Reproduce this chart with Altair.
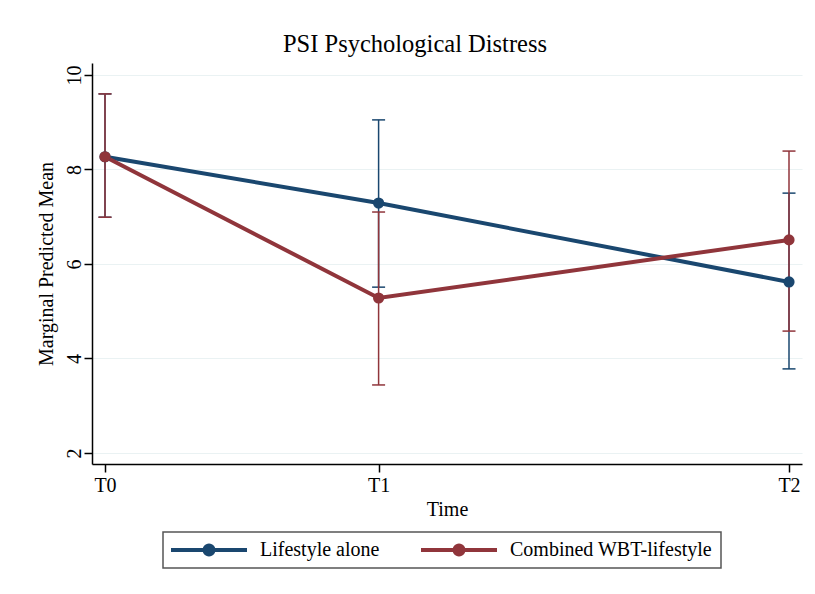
import math
import altair as alt
import pandas as pd

# Time points (months from baseline) and their axis labels
time_labels = ["T0", "T1", "T2"]
time_point = [0, 4, 10]

groups = ["Lifestyle alone", "Combined WBT-lifestyle"]
colors = ["#1a476f", "#90353b"]

# Marginal predicted means with 95% CI bounds
lifestyle_mean = [8.27, 7.29, 5.62]
lifestyle_lo = [6.99, 5.51, 3.78]
lifestyle_hi = [9.60, 9.05, 7.50]

combined_mean = [8.27, 5.28, 6.51]
combined_lo = [6.99, 3.44, 4.58]
combined_hi = [9.60, 7.10, 8.39]

rows = []
for g, means, los, his in [
    (groups[0], lifestyle_mean, lifestyle_lo, lifestyle_hi),
    (groups[1], combined_mean, combined_lo, combined_hi),
]:
    for t, lab, m, lo, hi in zip(time_point, time_labels, means, los, his):
        rows.append({"group": g, "time": t, "label": lab, "mean": m, "lo": lo, "hi": hi})
df = pd.DataFrame(rows)

SERIF = "Liberation Serif"


def legend_glyph(half_len=38.0, bar_half=2.0, dot_r=6.5, n=28):
    """Line-with-dot legend key as a filled path in [-1, 1] units."""
    h = bar_half / half_len
    r = dot_r / half_len
    bar = f"M-1,{-h:.4f}L1,{-h:.4f}L1,{h:.4f}L-1,{h:.4f}Z"
    pts = [(r * math.cos(2 * math.pi * k / n), r * math.sin(2 * math.pi * k / n)) for k in range(n)]
    dot = "M" + "L".join(f"{x:.4f},{y:.4f}" for x, y in pts) + "Z"
    return bar + dot


label_expr = " : ".join(
    f"datum.value == {t} ? '{lab}'" for t, lab in zip(time_point[:-1], time_labels[:-1])
) + f" : '{time_labels[-1]}'"

x_enc = alt.X(
    "time:Q",
    scale=alt.Scale(domain=[-0.19, 10.19], nice=False, zero=False),
    axis=alt.Axis(
        values=time_point,
        labelExpr=label_expr,
        title="Time",
        grid=False,
        tickSize=8,
        labelPadding=3,
        titlePadding=4,
    ),
)

y_scale = alt.Scale(domain=[1.767, 10.254], nice=False, zero=False)
y_axis = alt.Axis(
    values=[2, 4, 6, 8, 10],
    title="Marginal Predicted Mean",
    grid=True,
    tickSize=8,
    labelAngle=-90,
    labelAlign="center",
    labelBaseline="alphabetic",
    labelPadding=4,
    titlePadding=8,
)

base = alt.Chart(df)

# Confidence intervals first (one layer per group), then the mean profiles
ci_layers = []
line_layers = []
for g, col in zip(groups, colors):
    sub = base.transform_filter(alt.datum.group == g)
    ci_layers.append(
        sub.mark_rule(strokeWidth=1.5, color=col).encode(
            x=x_enc,
            y=alt.Y("lo:Q", scale=y_scale, axis=y_axis),
            y2="hi:Q",
        )
    )
    ci_layers.append(
        sub.mark_tick(orient="horizontal", size=13, thickness=1.5, opacity=1, color=col).encode(
            x="time:Q", y="lo:Q"
        )
    )
    ci_layers.append(
        sub.mark_tick(orient="horizontal", size=13, thickness=1.5, opacity=1, color=col).encode(
            x="time:Q", y="hi:Q"
        )
    )
    line_layers.append(
        sub.mark_line(strokeWidth=4, color=col).encode(x="time:Q", y="mean:Q")
    )

# The markers carry the legend through their fill scale
points = base.mark_point(filled=True, size=125, opacity=1, strokeWidth=0).encode(
    x="time:Q",
    y="mean:Q",
    fill=alt.Fill(
        "group:N",
        scale=alt.Scale(domain=groups, range=colors),
        legend=alt.Legend(
            title=None,
            orient="none",
            legendX=71,
            legendY=469,
            direction="horizontal",
            symbolType=legend_glyph(),
            symbolSize=76 * 76,
            symbolStrokeWidth=0,
            symbolOpacity=1,
            clipHeight=20,
            labelFont=SERIF,
            labelFontSize=20,
            labelColor="#000000",
            labelLimit=0,
            labelOffset=13,
            columnPadding=41,
            padding=8,
            strokeColor="#555555",
            fillColor="#ffffff",
        ),
    ),
)

chart = (
    alt.layer(*ci_layers, *line_layers, points)
    .properties(
        width=710,
        height=401,
        padding={"left": 92, "top": 63, "right": 13, "bottom": 130},
        autosize=alt.AutoSizeParams(type="none"),
        background="#ffffff",
        title=alt.TitleParams(
            "PSI Psychological Distress",
            font=SERIF,
            fontSize=24.5,
            fontWeight="normal",
            color="#000000",
            anchor="middle",
            dx=-32,
            offset=6,
        ),
    )
    .configure_view(stroke=None)
    .configure_axis(
        labelFont=SERIF,
        labelFontSize=20,
        labelColor="#000000",
        titleFont=SERIF,
        titleFontSize=20,
        titleFontWeight="normal",
        titleColor="#000000",
        domainColor="#000000",
        domainWidth=1.5,
        tickColor="#000000",
        tickWidth=1.5,
        gridColor="#eaf2f3",
        gridWidth=1.2,
    )
    .configure_legend(strokeWidth=1.5)
)

chart.save("out.html", embed_options={"renderer": "svg", "actions": False})
